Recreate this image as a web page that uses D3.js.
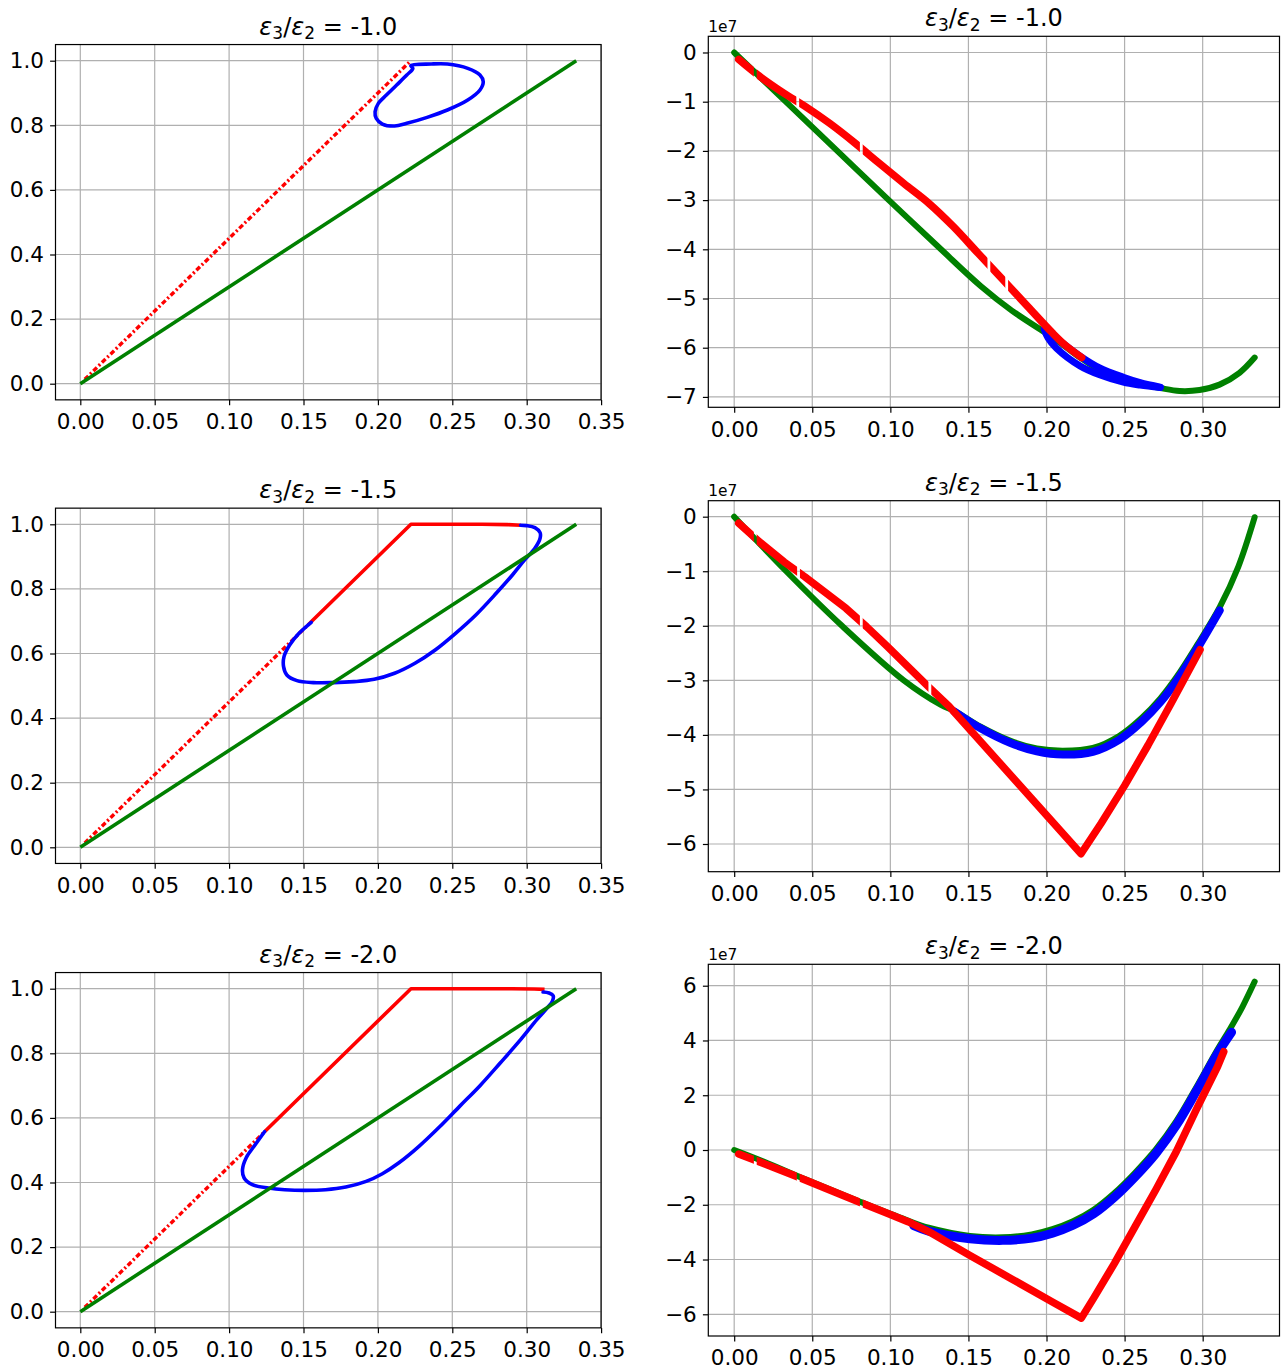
<!DOCTYPE html>
<html><head><meta charset="utf-8">
<script src="https://cdn.jsdelivr.net/npm/d3@7"></script>
<style>body{margin:0;background:#fff}svg{display:block}</style>
</head><body>
<script>
// ---------------- data ----------------
const ratios = ["-1.0", "-1.5", "-2.0"];
const xTicksLeft = [0, 0.05, 0.10, 0.15, 0.20, 0.25, 0.30, 0.35];
const xTicksRight = [0, 0.05, 0.10, 0.15, 0.20, 0.25, 0.30];
const yTicksLeft = [0, 0.2, 0.4, 0.6, 0.8, 1.0];
const yTicksR1 = [0, -1, -2, -3, -4, -5, -6, -7];
const yTicksR2 = [0, -1, -2, -3, -4, -5, -6];
const yTicksR3 = [-6, -4, -2, 0, 2, 4, 6];

// left column (fraction vs x)
const greenL = [[0, 0], [0.3333, 1.0]];
const redDotL1 = [[0.003, 0.0135], [0.2222, 1.0]];
const blueL1 = [[0.2221,0.9845],[0.2358,0.9897],[0.2467,0.9897],[0.2604,0.9763],[0.2686,0.9556],[0.2708,0.935],[0.2686,0.9092],[0.2604,0.8782],[0.2467,0.8473],[0.2331,0.8246],[0.2194,0.806],[0.2112,0.7977],[0.203,0.8039],[0.1989,0.8215],[0.1981,0.8421],[0.2003,0.8679],[0.2057,0.8937],[0.2126,0.9247],[0.2194,0.9556],[0.2235,0.9763]];
const redDotL2 = [[0.003, 0.0135], [0.155, 0.6975]];
const redSolidL2 = [[0.155, 0.6975], [0.2222, 1.0], [0.27, 1.0], [0.287, 0.999], [0.296, 0.997]];
const blueL2 = [[0.1552,0.6966],[0.147,0.6625],[0.1407,0.6264],[0.1369,0.5903],[0.1366,0.5593],[0.1388,0.5335],[0.1456,0.516],[0.1566,0.5098],[0.1702,0.5098],[0.1839,0.5129],[0.1975,0.5201],[0.2112,0.5387],[0.2249,0.5697],[0.2385,0.6109],[0.2522,0.6625],[0.2658,0.7193],[0.2795,0.7864],[0.2904,0.8431],[0.2986,0.8896],[0.3055,0.9257],[0.309,0.9567],[0.309,0.9742],[0.3055,0.9897],[0.300,0.9959],[0.2959,0.9969]];
const redDotL3 = [[0.003, 0.0135], [0.124, 0.558]];
const redSolidL3 = [[0.124, 0.558], [0.2222, 1.0], [0.29, 1.0], [0.305, 0.999], [0.312, 0.998]];
const blueL3 = [[0.1238,0.5573],[0.1169,0.5129],[0.1115,0.4768],[0.109,0.4396],[0.1101,0.4138],[0.1156,0.3932],[0.1265,0.3829],[0.1374,0.3777],[0.1511,0.3757],[0.1648,0.3777],[0.1784,0.386],[0.1921,0.4035],[0.203,0.4272],[0.2139,0.4602],[0.2276,0.5119],[0.2413,0.5717],[0.2549,0.6357],[0.2686,0.6997],[0.2822,0.7699],[0.2959,0.8421],[0.3068,0.904],[0.3137,0.9401],[0.3172,0.9608],[0.3178,0.9783],[0.315,0.9866],[0.311,0.9897]];

// right column (values in units of 1e7)
const greenR1 = [[0,0],[0.033,-1.0],[0.066,-2.0],[0.099,-3.0],[0.1324,-4.0],[0.158,-4.75],[0.178,-5.25],[0.1975,-5.66],[0.21,-5.93],[0.2215,-6.2],[0.234,-6.45],[0.2492,-6.64],[0.26,-6.74],[0.2728,-6.82],[0.2852,-6.88],[0.298,-6.86],[0.3108,-6.75],[0.3236,-6.51],[0.3333,-6.2]];
const blueR1a = [[0.1995,-5.57],[0.2064,-5.80],[0.2215,-6.17],[0.234,-6.41],[0.2492,-6.60],[0.26,-6.71],[0.2728,-6.80]];
const blueR1b = [[0.1985,-5.62],[0.201,-5.80],[0.2064,-6.01],[0.2215,-6.37],[0.234,-6.55],[0.2492,-6.70],[0.26,-6.76],[0.2728,-6.81]];
const redR1 = [[0.0029,-0.14],[0.0161,-0.48],[0.032,-0.83],[0.0452,-1.09],[0.0611,-1.44],[0.0769,-1.83],[0.0928,-2.25],[0.1086,-2.66],[0.1245,-3.06],[0.1404,-3.54],[0.1562,-4.08],[0.1721,-4.62],[0.1879,-5.16],[0.2038,-5.70],[0.2117,-5.94],[0.2225,-6.2]];
const redGapsR1 = [0.0135, 0.0407, 0.0814, 0.1631, 0.1745];

const greenR2 = [[0,0],[0.0333,-1.0],[0.069,-2.0],[0.1086,-3.0],[0.1324,-3.45],[0.141,-3.56],[0.1578,-3.85],[0.177,-4.11],[0.1938,-4.25],[0.2105,-4.29],[0.2297,-4.24],[0.2465,-4.02],[0.2609,-3.69],[0.2729,-3.33],[0.2835,-2.93],[0.2965,-2.35],[0.3109,-1.66],[0.3228,-0.92],[0.3333,-0.01]];
const blueR2 = [[0.141,-3.57],[0.1578,-3.88],[0.177,-4.15],[0.1938,-4.30],[0.2105,-4.36],[0.2297,-4.31],[0.2465,-4.09],[0.2609,-3.76],[0.2729,-3.40],[0.2835,-3.0],[0.2965,-2.42],[0.3109,-1.72]];
const redR2 = [[0.0029,-0.12],[0.0161,-0.46],[0.032,-0.83],[0.0452,-1.1],[0.0584,-1.39],[0.0716,-1.68],[0.0849,-2.02],[0.0981,-2.38],[0.1113,-2.75],[0.1245,-3.12],[0.1377,-3.48],[0.2221,-6.18],[0.235,-5.62],[0.25,-4.93],[0.265,-4.19],[0.28,-3.41],[0.2983,-2.44]];
const redGapsR2 = [0.0135, 0.0412, 0.0814, 0.1253];

const greenR3 = [[0,0],[0.0188,-0.42],[0.0452,-1.06],[0.0716,-1.68],[0.098,-2.28],[0.1113,-2.58],[0.1245,-2.84],[0.151,-3.14],[0.172,-3.19],[0.1906,-3.08],[0.2038,-2.89],[0.217,-2.60],[0.2302,-2.18],[0.2435,-1.57],[0.2567,-0.83],[0.27,0.02],[0.2831,1.05],[0.2963,2.33],[0.3095,3.67],[0.3175,4.42],[0.3254,5.22],[0.3333,6.15]];
const blueR3 = [[0.115,-2.76],[0.1245,-2.96],[0.151,-3.24],[0.172,-3.30],[0.1906,-3.22],[0.2038,-3.04],[0.217,-2.75],[0.2302,-2.33],[0.2435,-1.72],[0.2567,-0.98],[0.27,-0.13],[0.2831,0.9],[0.2963,2.18],[0.3095,3.52],[0.3185,4.3]];
const redR3 = [[0.0029,-0.15],[0.0188,-0.49],[0.04,-0.97],[0.0584,-1.4],[0.0796,-1.89],[0.098,-2.31],[0.1113,-2.62],[0.1245,-2.98],[0.151,-3.85],[0.1774,-4.7],[0.2038,-5.55],[0.2223,-6.14],[0.2302,-5.41],[0.2435,-4.14],[0.2567,-2.8],[0.2699,-1.46],[0.2831,-0.06],[0.2963,1.52],[0.3095,3.04],[0.3135,3.59]];
const redGapsR3 = [0.0135, 0.041, 0.0814];

// ---------------- drawing ----------------
const W = 1287, H = 1372;
const FONT = "DejaVu Sans";
const GREEN = "#008000", BLUE = "#0000ff", RED = "#ff0000";

const svg = d3.select("body").append("svg").attr("width", W).attr("height", H)
  .style("background", "#fff");
svg.append("rect").attr("width", W).attr("height", H).attr("fill", "#fff");
const defs = svg.append("defs");

const fmtL = d3.format(".1f"), fmtX = d3.format(".2f"), fmtR = d3.format("d");

const leftX = [55.5, 601.1], rightX = [708.3, 1279.5];
const DOTS = "5 2.5 2 2.5";
const panels = [
  {id:"p1", ratio:ratios[0], fx:leftX, fy:[44.55,399.85], xd:[-0.01667,0.35], yd:[-0.05,1.05], xt:xTicksLeft, yt:yTicksLeft, yf:fmtL, offset:false,
   layers:[{d:redDotL1,c:RED,w:3.4,dash:DOTS,curve:d3.curveLinear},
           {d:blueL1,c:BLUE,w:3.6,curve:d3.curveCatmullRomClosed},
           {d:greenL,c:GREEN,w:3.6,curve:d3.curveLinear}]},
  {id:"p2", ratio:ratios[0], fx:rightX, fy:[36.3,407.3], xd:[-0.01658,0.3492], yd:[-7.211,0.329], xt:xTicksRight, yt:yTicksR1, yf:fmtR, offset:true,
   layers:[{d:greenR1,c:GREEN,w:6,cap:"round",curve:d3.curveCatmullRom},
           {d:blueR1a,c:BLUE,w:7,cap:"round",curve:d3.curveCatmullRom},
           {d:blueR1b,c:BLUE,w:7,cap:"round",curve:d3.curveCatmullRom},
           {d:redR1,c:RED,w:7.5,cap:"round",curve:d3.curveCatmullRom,gaps:redGapsR1}]},
  {id:"p3", ratio:ratios[1], fx:leftX, fy:[508.15,863.45], xd:[-0.01667,0.35], yd:[-0.05,1.05], xt:xTicksLeft, yt:yTicksLeft, yf:fmtL, offset:false,
   layers:[{d:redDotL2,c:RED,w:3.4,dash:DOTS,curve:d3.curveLinear},
           {d:redSolidL2,c:RED,w:3.6,curve:d3.curveLinear},
           {d:blueL2,c:BLUE,w:3.6,cap:"round",curve:d3.curveCatmullRom},
           {d:greenL,c:GREEN,w:3.6,curve:d3.curveLinear}]},
  {id:"p4", ratio:ratios[1], fx:rightX, fy:[500.7,871.7], xd:[-0.01658,0.3492], yd:[-6.508,0.293], xt:xTicksRight, yt:yTicksR2, yf:fmtR, offset:true,
   layers:[{d:greenR2,c:GREEN,w:6,cap:"round",curve:d3.curveCatmullRom},
           {d:blueR2,c:BLUE,w:8,cap:"round",curve:d3.curveCatmullRom},
           {d:redR2,c:RED,w:7.5,cap:"round",curve:d3.curveLinear,gaps:redGapsR2}]},
  {id:"p5", ratio:ratios[2], fx:leftX, fy:[972.55,1327.85], xd:[-0.01667,0.35], yd:[-0.05,1.05], xt:xTicksLeft, yt:yTicksLeft, yf:fmtL, offset:false,
   layers:[{d:redDotL3,c:RED,w:3.4,dash:DOTS,curve:d3.curveLinear},
           {d:redSolidL3,c:RED,w:3.6,curve:d3.curveLinear},
           {d:blueL3,c:BLUE,w:3.6,cap:"round",curve:d3.curveCatmullRom},
           {d:greenL,c:GREEN,w:3.6,curve:d3.curveLinear}]},
  {id:"p6", ratio:ratios[2], fx:rightX, fy:[964.3,1336], xd:[-0.01658,0.3492], yd:[-6.793,6.782], xt:xTicksRight, yt:yTicksR3, yf:fmtR, offset:true,
   layers:[{d:greenR3,c:GREEN,w:6,cap:"round",curve:d3.curveCatmullRom},
           {d:blueR3,c:BLUE,w:9,cap:"round",curve:d3.curveCatmullRom},
           {d:redR3,c:RED,w:7.5,cap:"round",curve:d3.curveLinear,gaps:redGapsR3}]}
];

const GAP_HALF = 0.0009;

panels.forEach(p => {
  const x = d3.scaleLinear().domain(p.xd).range(p.fx);
  const y = d3.scaleLinear().domain(p.yd).range([p.fy[1], p.fy[0]]);
  const g = svg.append("g");
  const [x0, x1] = p.fx, [y0, y1] = p.fy;

  // grid
  g.append("g").selectAll("line").data(p.xt).join("line")
    .attr("x1", d => x(d)).attr("x2", d => x(d)).attr("y1", y0).attr("y2", y1)
    .attr("stroke", "#b0b0b0").attr("stroke-width", 1.2);
  g.append("g").selectAll("line").data(p.yt).join("line")
    .attr("y1", d => y(d)).attr("y2", d => y(d)).attr("x1", x0).attr("x2", x1)
    .attr("stroke", "#b0b0b0").attr("stroke-width", 1.2);

  // clip to axes
  defs.append("clipPath").attr("id", "clip-" + p.id).append("rect")
    .attr("x", x0).attr("y", y0).attr("width", x1 - x0).attr("height", y1 - y0);
  const plot = g.append("g").attr("clip-path", `url(#clip-${p.id})`);

  p.layers.forEach((L, i) => {
    const line = d3.line().x(d => x(d[0])).y(d => y(d[1])).curve(L.curve);
    let target = plot;
    if (L.gaps) {
      const cid = `gap-${p.id}-${i}`;
      const cp = defs.append("clipPath").attr("id", cid);
      const edges = [p.xd[0]].concat(...L.gaps.map(gx => [gx - GAP_HALF, gx + GAP_HALF]), [p.xd[1]]);
      for (let k = 0; k < edges.length; k += 2) {
        cp.append("rect").attr("x", x(edges[k])).attr("y", y0 - 10)
          .attr("width", x(edges[k + 1]) - x(edges[k])).attr("height", y1 - y0 + 20);
      }
      target = plot.append("g").attr("clip-path", `url(#${cid})`);
    }
    const path = target.append("path").attr("d", line(L.d))
      .attr("fill", "none").attr("stroke", L.c).attr("stroke-width", L.w)
      .attr("stroke-linecap", L.cap || "butt").attr("stroke-linejoin", "round");
    if (L.dash) path.attr("stroke-dasharray", L.dash);
  });

  // frame
  g.append("rect").attr("x", x0).attr("y", y0).attr("width", x1 - x0).attr("height", y1 - y0)
    .attr("fill", "none").attr("stroke", "#000").attr("stroke-width", 1.2);

  // axes
  const ax = g.append("g").attr("transform", `translate(0,${y1})`)
    .call(d3.axisBottom(x).tickValues(p.xt).tickFormat(fmtX).tickSize(5.4).tickPadding(8.8));
  const ay = g.append("g").attr("transform", `translate(${x0},0)`)
    .call(d3.axisLeft(y).tickValues(p.yt).tickFormat(p.yf).tickSize(5.4).tickPadding(6.2));
  [ax, ay].forEach(a => {
    a.select(".domain").remove();
    a.selectAll(".tick line").attr("stroke", "#000").attr("stroke-width", 1.2);
    a.selectAll(".tick text").attr("fill", "#000").style("font-family", FONT).style("font-size", "21.5px");
  });

  // title
  const cx = (x0 + x1) / 2;
  const t = g.append("text").attr("x", cx).attr("y", y0 - 10).attr("text-anchor", "middle")
    .style("font-family", FONT).style("font-size", "24px").attr("fill", "#000");
  t.append("tspan").style("font-style", "italic").text("ε");
  t.append("tspan").style("font-size", "17px").attr("dy", 4.5).text("3");
  t.append("tspan").attr("dy", -4.5).text("/");
  t.append("tspan").style("font-style", "italic").text("ε");
  t.append("tspan").style("font-size", "17px").attr("dy", 4.5).text("2");
  t.append("tspan").attr("dy", -4.5).text(" = ");
  t.append("tspan").text(p.ratio);

  if (p.offset) {
    g.append("text").attr("x", x0).attr("y", y0 - 4.6)
      .style("font-family", FONT).style("font-size", "15.4px").attr("fill", "#000").text("1e7");
  }
});
</script>
</body></html>
